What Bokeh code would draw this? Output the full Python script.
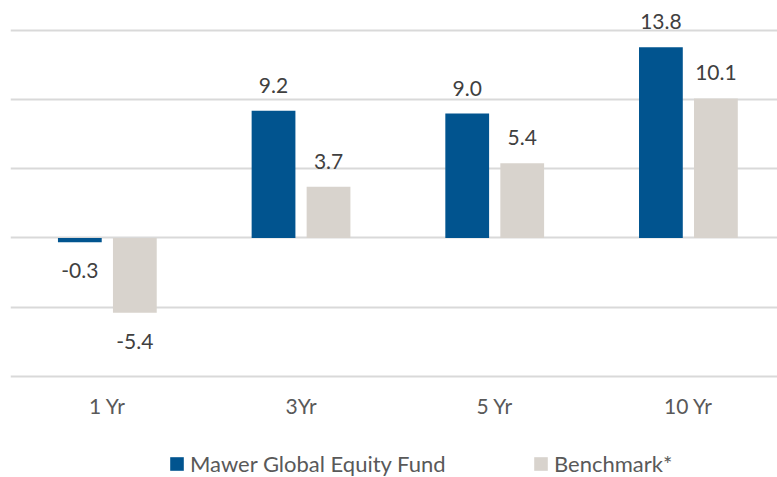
from bokeh.plotting import figure
from bokeh.models import (ColumnDataSource, Range1d, FixedTicker, Legend, LegendItem,
                          LinearAxis)
from bokeh.core.properties import value
from bokeh.embed import file_html
from bokeh.resources import INLINE
import numpy as np

categories = ["1 Yr", "3Yr", "5 Yr", "10 Yr"]
fund = [-0.3, 9.2, 9.0, 13.8]
benchmark = [-5.4, 3.7, 5.4, 10.1]
series_names = ["Mawer Global Equity Fund", "Benchmark*"]
grid_ticks = [-10, -5, 0, 5, 10, 15]

FONT = "Lato"
BLUE = "#01548F"
BEIGE = "#D8D3CD"

xc = np.arange(len(categories)) + 0.5
off = 0.142
bw = 0.226

def label_src(x, vals):
    vals = np.array(vals)
    return ColumnDataSource(dict(
        x=x, y=vals, top=vals,
        txt=[f"{v:.1f}" for v in vals],
        yo=[-25.5 if v >= 0 else 28.5 for v in vals],
    ))

s_f = label_src(xc - off, fund)
s_b = label_src(xc + off, benchmark)

p = figure(width=777, height=477, output_backend="svg", toolbar_location=None,
           x_range=Range1d(0, 3.960), y_range=Range1d(-17.33, 17.185),
           x_axis_location=None, y_axis_location=None,
           min_border_left=10, min_border_right=0, min_border_top=0, min_border_bottom=0)
p.outline_line_color = None
p.background_fill_color = "white"
p.border_fill_color = "white"

r1 = p.vbar(x="x", top="top", bottom=0, width=bw, source=s_f, fill_color=BLUE, line_color=None)
r2 = p.vbar(x="x", top="top", bottom=0, width=bw, source=s_b, fill_color=BEIGE, line_color=None)

for s in (s_f, s_b):
    p.text(x="x", y="y", text="txt", y_offset="yo", source=s, text_align="center",
           text_baseline="alphabetic", text_font=value(FONT), text_font_size="21px",
           text_color="#404040")

p.xgrid.visible = False
p.ygrid.ticker = FixedTicker(ticks=grid_ticks)
p.ygrid.grid_line_color = "#D9D9D9"
p.ygrid.grid_line_width = 2

xa = LinearAxis(fixed_location=min(grid_ticks))
xa.ticker = FixedTicker(ticks=list(xc))
xa.major_label_overrides = {float(x): c for x, c in zip(xc, categories)}
xa.axis_line_color = None
xa.major_tick_line_color = None
xa.minor_tick_line_color = None
xa.major_label_text_font = FONT
xa.major_label_text_font_size = "21px"
xa.major_label_text_color = "#595959"
xa.major_label_standoff = 11
p.add_layout(xa, "below")

legend = Legend(items=[LegendItem(label=series_names[0], renderers=[r1]),
                       LegendItem(label=series_names[1], renderers=[r2])],
                orientation="horizontal", location=(158, 0), margin=0, padding=0,
                spacing=42, glyph_width=17, glyph_height=17, label_standoff=5,
                label_width=300,
                label_text_font=FONT, label_text_font_size="22px",
                label_text_color="#595959", border_line_color=None,
                background_fill_alpha=0)
p.add_layout(legend)

open("out.html", "w").write(file_html(p, INLINE))
